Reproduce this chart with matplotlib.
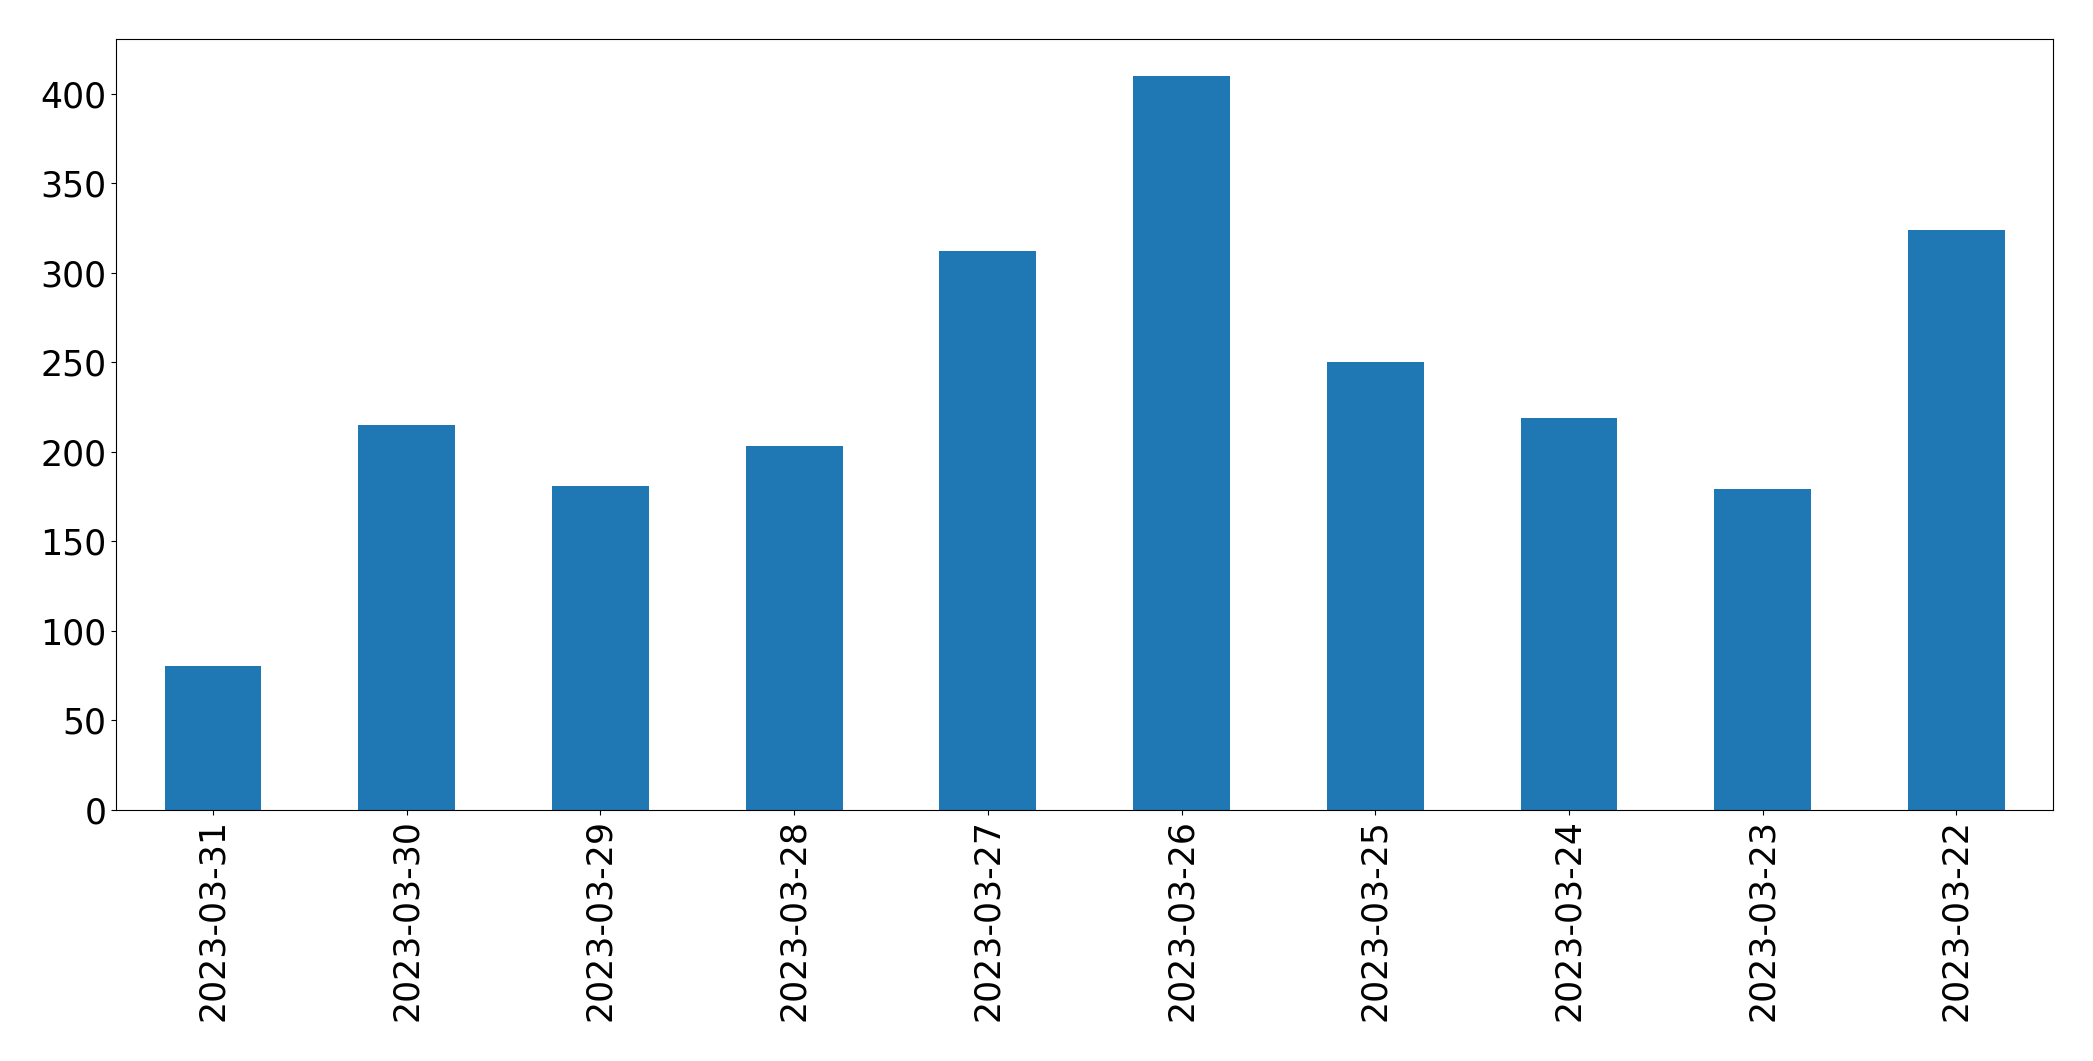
import matplotlib
matplotlib.use("Agg")
import matplotlib.pyplot as plt
import pandas as pd

# daily counts, newest first (as in the source)
dates = ["2023-03-31", "2023-03-30", "2023-03-29", "2023-03-28", "2023-03-27",
         "2023-03-26", "2023-03-25", "2023-03-24", "2023-03-23", "2023-03-22"]
counts = [80, 215, 181, 203, 312, 410, 250, 219, 179, 324]

s = pd.Series(counts, index=dates)

fig, ax = plt.subplots(figsize=(20.93, 10.61), dpi=100)
s.plot(kind="bar", ax=ax, color="#1f77b4", width=0.5, fontsize=25)
ax.tick_params(axis="x", rotation=90)

fig.subplots_adjust(left=0.0555, right=0.981, top=0.963, bottom=0.237)
fig.savefig("out.png", dpi=100)
